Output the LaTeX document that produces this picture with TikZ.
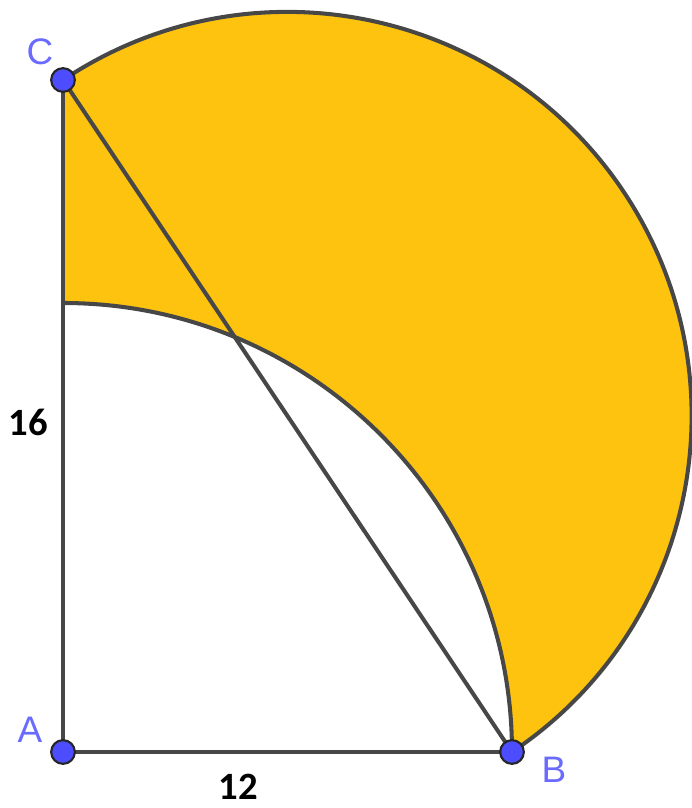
\documentclass[tikz,border=0pt]{standalone}
\usepackage{fontspec}
\setmainfont{Liberation Sans}
\newfontfamily\numfont{Carlito}
\usetikzlibrary{calc}
\definecolor{gold}{HTML}{FDC30F}
\definecolor{ptblue}{HTML}{4D4DFF}
\definecolor{lblblue}{HTML}{6A6AFF}
\definecolor{edge}{HTML}{474747}
\tikzset{pt/.style={circle,fill=ptblue,draw=black!85,line width=1.2pt,inner sep=0pt,minimum size=13.5pt},
  lbl/.style={text=lblblue,font=\fontsize{21}{24}\selectfont},
  len/.style={font=\numfont\bfseries\fontsize{22}{26}\selectfont}}
\begin{document}
\begin{tikzpicture}[x=0.02cm,y=0.02cm,line width=2.3pt]
\useasboundingbox(-63,-56)rectangle(628,752);
\coordinate(A)at(0,0);\coordinate(B)at(449,0);\coordinate(C)at(0,672);\coordinate(D)at(0,449);
\fill[gold](C)--(D)arc[start angle=90,end angle=0,radius=449]arc[start angle=-56.25,end angle=123.75,radius=404.1]--cycle;
\draw[edge](D)arc[start angle=90,end angle=0,radius=449];
\draw[edge](B)arc[start angle=-56.25,end angle=123.75,radius=404.1];
\draw[edge](A)--(B);\draw[edge](A)--(C);\draw[edge](B)--(C);
\node[pt](pA)at(A){};\node[pt](pB)at(B){};\node[pt](pC)at(C){};
\node[lbl](lA)at(-33,22){A};\node[lbl](lB)at(491,-18){B};\node[lbl](lC)at(-23,700){C};
\node[len](l16)at(-35,330){16};\node[len](l12)at(175,-35){12};
\end{tikzpicture}
\end{document}
